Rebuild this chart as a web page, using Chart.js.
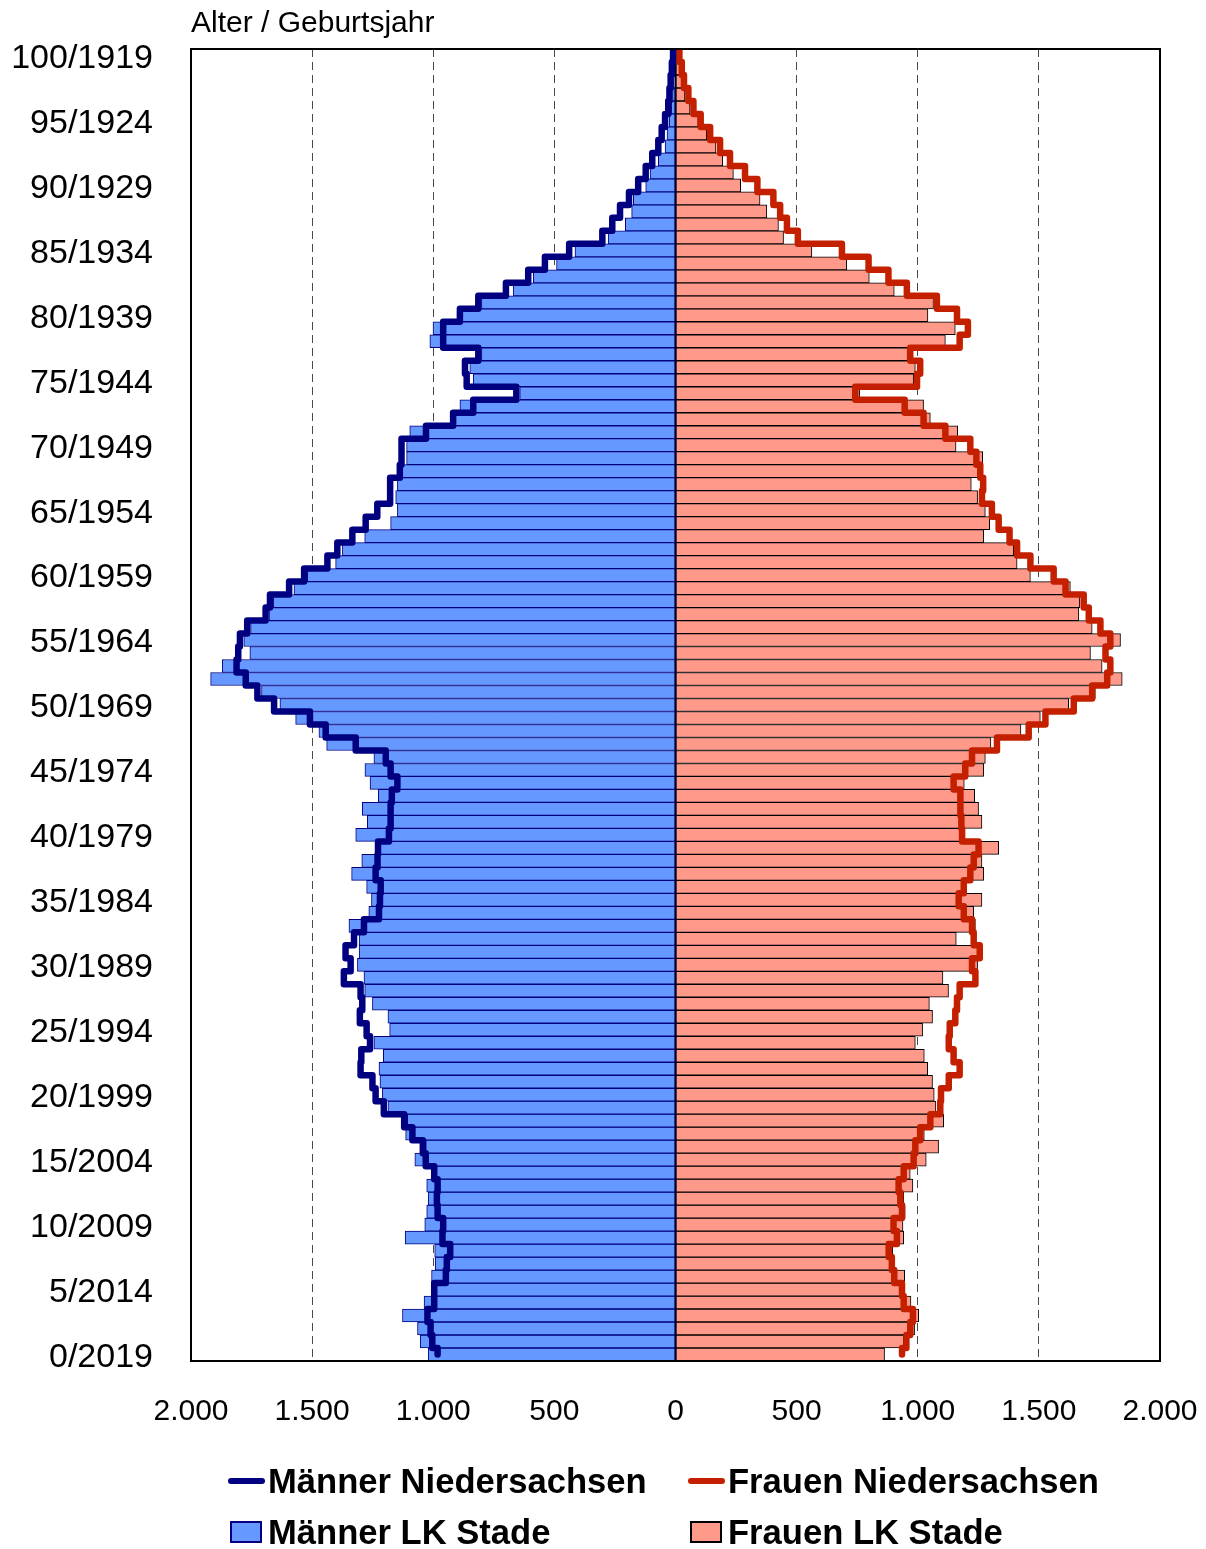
<!DOCTYPE html>
<html>
<head>
<meta charset="utf-8">
<script src="https://cdn.jsdelivr.net/npm/chart.js@4.4.0/dist/chart.umd.min.js"></script>
<style>
  html, body { margin: 0; padding: 0; background: #fff; }
  #wrap { position: relative; width: 1206px; height: 1549px; }
  #legende { position: absolute; left: 0; top: 0; width: 1206px; height: 1549px; pointer-events: none;
    font-family: "Liberation Sans", Arial, sans-serif; font-weight: bold; font-size: 34.6px; color: #000; }
  .eintrag { position: absolute; display: flex; align-items: center; height: 40px; white-space: nowrap; }
  .linie { width: 37px; height: 6px; border-radius: 3px; margin-right: 3px; }
  .kasten { width: 28px; height: 18px; border: 2px solid #000; margin-right: 6px; }
</style>
</head>
<body>
<div id="wrap">
  <canvas id="pyramide" width="1206" height="1549"></canvas>
  <div id="legende">
    <div class="eintrag" style="left:228px; top:1461px"><span class="linie" style="background:#000080"></span>Männer Niedersachsen</div>
    <div class="eintrag" style="left:688px; top:1461px"><span class="linie" style="background:#c42000"></span>Frauen Niedersachsen</div>
    <div class="eintrag" style="left:230px; top:1512px"><span class="kasten" style="background:#6699ff; border-color:#000080"></span>Männer LK Stade</div>
    <div class="eintrag" style="left:690px; top:1512px"><span class="kasten" style="background:#ff998a"></span>Frauen LK Stade</div>
  </div>
</div>
<script>
// Stichtag 31.12.2019, Alter 0 bis 100
var berichtsjahr = 2019;
var alter = Array.from({length: 101}, function (_, i) { return i; });
var achsenAlter = [0, 5, 10, 15, 20, 25, 30, 35, 40, 45, 50, 55, 60, 65, 70, 75, 80, 85, 90, 95, 100];

// Landkreis Stade (Balken), Alter 0 .. 100
var maennerStade = [
  1021, 1054, 1065, 1127, 1038, 996, 1007, 992, 994, 1116,
  1035, 1027, 1021, 1027, 1003, 1076, 1031, 1114, 1107, 1187,
  1210, 1220, 1224, 1206, 1245, 1180, 1187, 1251, 1283, 1286,
  1313, 1306, 1306, 1348, 1266, 1255, 1275, 1337, 1295, 1238,
  1320, 1272, 1293, 1227, 1261, 1282, 1245, 1440, 1472, 1568,
  1633, 1709, 1919, 1871, 1757, 1782, 1754, 1678, 1660, 1575,
  1520, 1403, 1375, 1283, 1176, 1148, 1155, 1148, 1131, 1110,
  1110, 1097, 911, 890, 643, 835, 849, 801, 1014, 1001,
  884, 801, 670, 587, 491, 415, 278, 207, 181, 174,
  123, 105, 71, 43, 35, 26, 18, 12, 8, 5,
  3
];
var frauenStade = [
  863, 942, 987, 1004, 972, 939, 946, 886, 897, 942,
  939, 948, 942, 980, 969, 1035, 1086, 1027, 1107, 1075,
  1068, 1061, 1041, 1027, 990, 1020, 1061, 1048, 1127, 1104,
  1247, 1258, 1159, 1238, 1231, 1265, 1190, 1272, 1265, 1334,
  1183, 1265, 1251, 1235, 1192, 1272, 1279, 1302, 1426, 1506,
  1623, 1733, 1844, 1761, 1713, 1837, 1720, 1665, 1669, 1630,
  1465, 1410, 1396, 1272, 1297, 1279, 1247, 1221, 1261, 1268,
  1158, 1165, 1052, 1024, 760, 983, 990, 958, 1114, 1155,
  1042, 1065, 903, 800, 707, 563, 446, 425, 377, 349,
  269, 239, 195, 167, 129, 94, 60, 39, 30, 19,
  3
];

// Niedersachsen, auf LK Stade umgerechnet (Linien), Alter 0 .. 100
var maennerNds = [
  982, 1004, 1011, 1024, 996, 996, 948, 944, 930, 962,
  959, 982, 985, 982, 996, 1031, 1043, 1086, 1120, 1204,
  1238, 1251, 1300, 1297, 1261, 1275, 1303, 1293, 1300, 1369,
  1341, 1362, 1327, 1286, 1224, 1220, 1217, 1238, 1230, 1228,
  1183, 1176, 1176, 1171, 1148, 1176, 1196, 1320, 1444, 1509,
  1657, 1726, 1774, 1812, 1805, 1798, 1768, 1692, 1674, 1595,
  1533, 1437, 1396, 1334, 1279, 1231, 1178, 1178, 1138, 1131,
  1131, 1030, 918, 835, 657, 862, 869, 814, 959, 959,
  890, 814, 700, 608, 539, 439, 302, 261, 229, 192,
  154, 123, 96, 71, 57, 43, 30, 25, 20, 15,
  10
];
var frauenNds = [
  935, 953, 969, 980, 942, 935, 903, 893, 880, 914,
  900, 935, 928, 921, 942, 983, 990, 1010, 1052, 1093,
  1096, 1128, 1173, 1148, 1128, 1132, 1155, 1162, 1173, 1238,
  1224, 1256, 1231, 1224, 1190, 1169, 1190, 1217, 1231, 1251,
  1183, 1180, 1176, 1176, 1148, 1196, 1224, 1327, 1458, 1527,
  1644, 1720, 1782, 1795, 1775, 1795, 1754, 1706, 1685, 1610,
  1561, 1465, 1410, 1379, 1334, 1306, 1265, 1270, 1258, 1242,
  1217, 1114, 1024, 946, 742, 997, 1010, 969, 1173, 1207,
  1162, 1079, 955, 879, 797, 687, 505, 460, 432, 404,
  338, 287, 225, 184, 143, 104, 74, 53, 35, 26,
  16
];

// Balken: Männer nach links (negativ), Frauen nach rechts
function balken(werte, vorzeichen) {
  return werte.map(function (v, i) { return {x: vorzeichen * v, y: alter[i]}; });
}

// Treppenlinie: jeder Jahrgang als senkrechtes Stück über die ganze Zeile
function treppe(werte, vorzeichen) {
  var pts = [];
  werte.forEach(function (v, i) {
    pts.push({x: vorzeichen * v, y: Math.max(alter[i] - 0.5, 0)});
    pts.push({x: vorzeichen * v, y: alter[i] + 0.5});
  });
  return pts;
}

function tausender(v) {
  return String(Math.abs(v)).replace(/\B(?=(\d{3})+(?!\d))/g, '.');
}

// Achsen sollen keinen Extra-Rand fuer ueberstehende Beschriftungen anfordern
function ohneRand(scale) {
  scale.paddingLeft = 0;
  scale.paddingRight = 0;
  scale.paddingTop = 0;
  scale.paddingBottom = 0;
}

var schrift = '"Liberation Sans", Arial, sans-serif';

// Rahmen, Nulllinie und Überschrift
var rahmen = {
  id: 'rahmen',
  beforeDatasetsDraw: function (chart) {
    var ctx = chart.ctx, a = chart.chartArea;
    var x0 = chart.scales.x.getPixelForValue(0);
    ctx.save();
    ctx.strokeStyle = '#000';
    ctx.lineWidth = 2;
    ctx.beginPath();
    ctx.moveTo(x0, a.top);
    ctx.lineTo(x0, a.bottom);
    ctx.stroke();
    ctx.restore();
  },
  afterDraw: function (chart) {
    var ctx = chart.ctx, a = chart.chartArea;
    ctx.save();
    ctx.strokeStyle = '#000';
    ctx.lineWidth = 2;
    ctx.strokeRect(a.left, a.top, a.right - a.left, a.bottom - a.top);
    ctx.fillStyle = '#000';
    ctx.font = '30px ' + schrift;
    ctx.textBaseline = 'alphabetic';
    ctx.fillText('Alter / Geburtsjahr', a.left, 32);
    ctx.restore();
  }
};

var pyramide = new Chart(document.getElementById('pyramide'), {
  type: 'bar',
  data: {
    datasets: [{
      type: 'line',
      label: 'Männer Niedersachsen',
      data: treppe(maennerNds, -1),
      borderColor: '#000080',
      borderWidth: 6.5,
      borderJoinStyle: 'round',
      borderCapStyle: 'round',
      pointRadius: 0,
      fill: false,
      tension: 0
    }, {
      type: 'line',
      label: 'Frauen Niedersachsen',
      data: treppe(frauenNds, 1),
      borderColor: '#c42000',
      borderWidth: 6.5,
      borderJoinStyle: 'round',
      borderCapStyle: 'round',
      pointRadius: 0,
      fill: false,
      tension: 0
    }, {
      label: 'Männer LK Stade',
      data: balken(maennerStade, -1),
      backgroundColor: '#6699ff',
      borderColor: '#000080',
      borderWidth: 1,
      borderSkipped: false,
      grouped: false,
      barPercentage: 1,
      categoryPercentage: 1
    }, {
      label: 'Frauen LK Stade',
      data: balken(frauenStade, 1),
      backgroundColor: '#ff998a',
      borderColor: '#000000',
      borderWidth: 1,
      borderSkipped: false,
      grouped: false,
      barPercentage: 1,
      categoryPercentage: 1
    }]
  },
  options: {
    indexAxis: 'y',
    responsive: false,
    animation: false,
    devicePixelRatio: 1,
    layout: { padding: { top: 49, left: 0, right: 46, bottom: 108 } },
    plugins: {
      legend: { display: false },
      tooltip: { enabled: false }
    },
    scales: {
      x: {
        type: 'linear',
        min: -2000,
        max: 2000,
        offset: false,
        afterFit: function (scale) { scale.height = 80; ohneRand(scale); },
        ticks: {
          stepSize: 500,
          padding: 33,
          color: '#000',
          font: { family: schrift, size: 30 },
          callback: function (v) { return tausender(v); }
        },
        grid: { color: '#4a4a4a', lineWidth: 1, drawTicks: false, offset: false },
        border: { display: false, dash: [8, 5] }
      },
      y: {
        type: 'linear',
        min: -0.5,
        max: 100.5,
        offset: false,
        afterFit: function (scale) { scale.width = 191; ohneRand(scale); },
        afterBuildTicks: function (scale) {
          scale.ticks = achsenAlter.map(function (a) { return {value: a}; });
        },
        ticks: {
          padding: 38,
          labelOffset: 3,
          color: '#000',
          font: { family: schrift, size: 34 },
          callback: function (v) { return v + '/' + (berichtsjahr - v); }
        },
        grid: { display: false, drawTicks: false, offset: false },
        border: { display: false }
      }
    }
  },
  plugins: [rahmen]
});
</script>
</body>
</html>
